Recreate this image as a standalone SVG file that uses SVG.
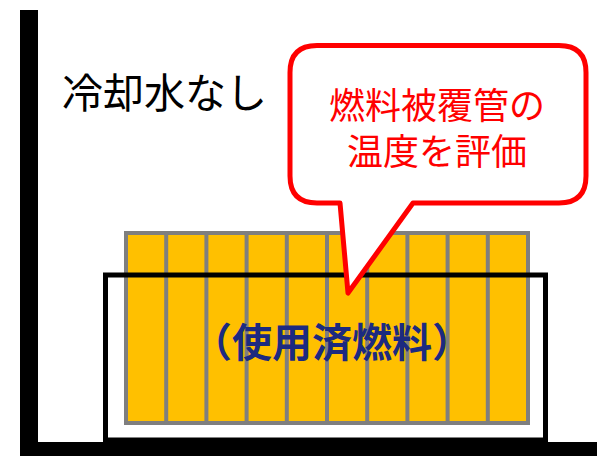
<svg xmlns="http://www.w3.org/2000/svg" width="597" height="456" viewBox="0 0 597 456">
<style>
.jp{font-family:"Noto Sans CJK JP","Noto Sans CJK SC",sans-serif}
.rod{fill:#ffc000;stroke:#7f7f7f;stroke-width:4}
.div{stroke:#7f7f7f;stroke-width:4}
</style>
<rect width="597" height="456" fill="#fff"/>
<g id="pool">
<rect x="20" y="10" width="18" height="446" fill="#000"/>
<path d="M20 442 H597 V456 H25 Q20 456 20 451 Z" fill="#000"/>
</g>
<g id="fuel">
<rect class="rod" x="126" y="233" width="402" height="190"/>
<g class="div">
<line x1="166.2" y1="233" x2="166.2" y2="423"/>
<line x1="206.4" y1="233" x2="206.4" y2="423"/>
<line x1="246.6" y1="233" x2="246.6" y2="423"/>
<line x1="286.8" y1="233" x2="286.8" y2="423"/>
<line x1="327" y1="233" x2="327" y2="423"/>
<line x1="367.2" y1="233" x2="367.2" y2="423"/>
<line x1="407.4" y1="233" x2="407.4" y2="423"/>
<line x1="447.6" y1="233" x2="447.6" y2="423"/>
<line x1="487.8" y1="233" x2="487.8" y2="423"/>
</g>
</g>
<g id="rack">
<rect x="105.5" y="275" width="440" height="165" fill="none" stroke="#000" stroke-width="5"/>
</g>
<g id="label-fuel">
<text class="jp" x="332" y="357" font-size="40" font-weight="bold" fill="#1c2a80" text-anchor="middle">（使用済燃料）</text>
</g>
<g id="label-nowater">
<text class="jp" x="62" y="108" font-size="41" fill="#000">冷却水なし</text>
</g>
<g id="callout">
<path d="M317 45.5 H559 Q586 45.5 586 72.5 V176 Q586 203 559 203 H413 L348 293 L340 203 H317 Q290 203 290 176 V72.5 Q290 45.5 317 45.5 Z" fill="#fff" stroke="#ff0000" stroke-width="5" stroke-linejoin="round"/>
<text class="jp" x="437" y="119" font-size="36" fill="#ff0000" text-anchor="middle">燃料被覆管の</text>
<text class="jp" x="437" y="165" font-size="36" fill="#ff0000" text-anchor="middle">温度を評価</text>
</g>
</svg>
